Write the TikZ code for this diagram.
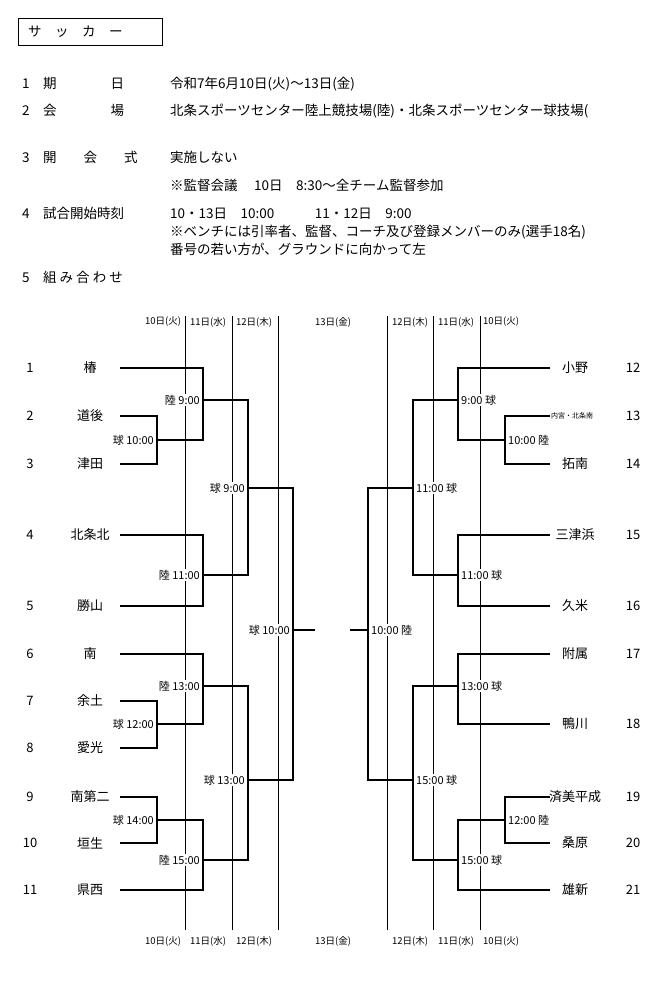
\documentclass[tikz,border=0pt]{standalone}
\usepackage{fontspec}
\setmainfont{Noto Sans CJK JP}
\usetikzlibrary{positioning}
\tikzset{
    bline/.style={line width=1.3pt},
    dayline/.style={line width=0.5pt},
    team/.style={font=\fontsize{13}{15}\selectfont, inner sep=1pt},
    tnum/.style={font=\fontsize{13}{15}\selectfont, inner sep=1pt},
    lbl/.style={font=\fontsize{11}{13}\selectfont, inner sep=1pt, fill=white},
    day/.style={font=\fontsize{9.5}{11}\selectfont, inner sep=0pt},
    head/.style={font=\fontsize{13.5}{16}\selectfont, anchor=base west, inner sep=0pt},
}
\begin{document}
\begin{tikzpicture}[x=1pt, y=-1pt]
    \useasboundingbox (0,0) rectangle (669,981);

    % title and notes
    \draw[line width=0.8pt] (18,18) rectangle (162,45);
    \node[head] (title) at (28,37) {サ　ッ　カ　ー};
    \node[head] (n1)  at (22,89)  {1　期　　　　日};
    \node[head] (v1)  at (170,89) {令和7年6月10日(火)～13日(金)};
    \node[head] (n2)  at (22,116) {2　会　　　　場};
    \node[head] (v2)  at (170,116) {北条スポーツセンター陸上競技場(陸)・北条スポーツセンター球技場(};
    \node[head] (n3)  at (22,163) {3　開　　会　　式};
    \node[head] (v3)  at (170,163) {実施しない};
    \node[head] (v3b) at (170,191) {※監督会議　 10日　8:30～全チーム監督参加};
    \node[head] (n4)  at (22,219) {4　試合開始時刻};
    \node[head] (v4)  at (170,219) {10・13日　10:00　　　11・12日　9:00};
    \node[head] (v4b) at (170,237) {※ベンチには引率者、監督、コーチ及び登録メンバーのみ(選手18名)};
    \node[head] (v4c) at (170,255) {番号の若い方が、グラウンドに向かって左};
    \node[head] (n5)  at (22,283) {5　組 み 合 わ せ};

    % day columns
    \foreach \x in {185,232,278,387,433,480}
        \draw[dayline] (\x,316) -- (\x,930);
    \foreach \y in {322,941} {
        \node[day] at (163,\y) {10日(火)};
        \node[day] at (208,\y) {11日(水)};
        \node[day] at (254,\y) {12日(木)};
        \node[day] at (333,\y) {13日(金)};
        \node[day] at (410,\y) {12日(木)};
        \node[day] at (456,\y) {11日(水)};
        \node[day] at (501,\y) {10日(火)};
    }

    % left teams
    \foreach \n/\t/\y in {1/椿/368, 2/道後/416, 3/津田/464, 4/北条北/535, 5/勝山/606,
                          6/南/654, 7/余土/701, 8/愛光/748, 9/南第二/797, 10/垣生/843, 11/県西/890} {
        \node[tnum] (ln\n) at (30,\y) {\n};
        \node[team] (lt\n) at (90,\y) {\t};
    }
    % right teams
    \foreach \n/\t/\y in {12/小野/368, 14/拓南/464, 15/三津浜/535, 16/久米/606,
                          17/附属/654, 18/鴨川/724, 19/済美平成/797, 20/桑原/843, 21/雄新/890} {
        \node[tnum] (rn\n) at (633,\y) {\n};
        \node[team] (rt\n) at (575,\y) {\t};
    }
    \node[tnum] (rn13) at (633,416) {13};
    \node[font=\fontsize{7}{8}\selectfont] (rt13) at (572,416) {内宮・北条南};

    % left bracket
    \draw[bline] (120,368) -| (203,440) -- (157,440);
    \draw[bline] (120,416) -| (157,464) -- (120,464);
    \draw[bline] (203,400) -- (248,400) |- (203,575);
    \draw[bline] (120,535) -| (203,606) -- (120,606);
    \draw[bline] (248,488) -- (293,488) |- (248,780);
    \draw[bline] (120,654) -| (203,724) -- (157,724);
    \draw[bline] (120,701) -| (157,748) -- (120,748);
    \draw[bline] (203,686) -- (248,686) |- (203,860);
    \draw[bline] (120,797) -| (157,843) -- (120,843);
    \draw[bline] (157,820) -| (203,890) -- (120,890);
    \draw[bline] (293,630) -- (315,630);

    % right bracket
    \draw[bline] (550,368) -| (458,440) -- (505,440);
    \draw[bline] (550,416) -| (505,464) -- (550,464);
    \draw[bline] (458,400) -- (413,400) |- (458,575);
    \draw[bline] (550,535) -| (458,606) -- (550,606);
    \draw[bline] (413,488) -- (368,488) |- (413,780);
    \draw[bline] (550,654) -| (458,724) -- (550,724);
    \draw[bline] (458,686) -- (413,686) |- (458,860);
    \draw[bline] (550,797) -| (505,843) -- (550,843);
    \draw[bline] (505,820) -| (458,890) -- (550,890);
    \draw[bline] (368,630) -- (350,630);

    % left times
    \foreach \x/\y/\t in {201/400/陸 9:00, 155/440/球 10:00, 246/488/球 9:00,
                          201/575/陸 11:00, 291/630/球 10:00, 201/686/陸 13:00,
                          155/724/球 12:00, 246/780/球 13:00, 155/820/球 14:00, 201/860/陸 15:00}
        \node[lbl, anchor=east] at (\x,\y) {\t};
    % right times
    \foreach \x/\y/\t in {460/400/9:00 球, 507/440/10:00 陸, 415/488/11:00 球,
                          460/575/11:00 球, 370/630/10:00 陸, 460/686/13:00 球,
                          415/780/15:00 球, 507/820/12:00 陸, 460/860/15:00 球}
        \node[lbl, anchor=west] at (\x,\y) {\t};
\end{tikzpicture}
\end{document}
